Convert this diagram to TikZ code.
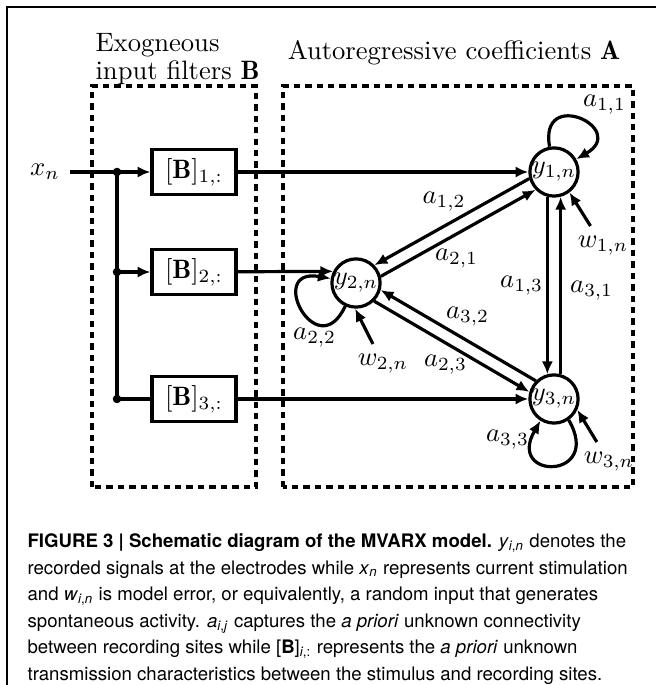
\documentclass[tikz,border=0pt]{standalone}
\usepackage{fontspec}
\newfontfamily\capfont{TeX Gyre Heros}
\usetikzlibrary{arrows.meta}

\begin{document}
\begin{tikzpicture}[x=0.376pt, y=0.376pt, line width=1.2pt, >={Latex[length=4.8pt,width=4.2pt]},
		sig/.style={circle, draw, inner sep=0pt, minimum size=18pt},
		filt/.style={rectangle, draw, inner sep=0pt, minimum width=31.6pt, minimum height=17pt},
		grp/.style={line width=1.4pt, dash pattern=on 2.4pt off 1.9pt},
		coef/.style={inner sep=1pt},
		selfloop/.style={->, distance=25pt}]
	\useasboundingbox (0,0) rectangle (656,685);
	\draw[line width=0.5pt] (7,0) -- (7,678) -- (656,678);

	\node[anchor=north west, align=left, inner sep=0pt] (ttlB) at (94,653) {Exogneous\\[-1.5pt]input filters $\mathbf{B}$};
	\node[anchor=base] (ttlA) at (454,625) {Autoregressive coefficients $\mathbf{A}$};
	\draw[grp] (92,198) rectangle (256,599);
	\draw[grp] (283,198) rectangle (633,599);

	\foreach \i/\y in {1/513,2/413,3/286} {
		\node[filt] (b\i) at (194,\y) {$[\mathbf{B}]_{\i,:}$};
		\coordinate (j\i) at (117,\y);
		\fill (j\i) circle[radius=1.6pt];
	}

	\node[sig] (y1) at (554,513) {$y_{1,n}$};
	\node[sig] (y2) at (356,402) {$y_{2,n}$};
	\node[sig] (y3) at (554,286) {$y_{3,n}$};
	\node (xn) at (45,513) {$x_n$};
	\node (w1) at (603,439) {$w_{1,n}$};
	\node (w2) at (383,321) {$w_{2,n}$};
	\node (w3) at (609,223) {$w_{3,n}$};

	\draw (xn) -- (j1) -- (j3);
	\draw[->] (j1) -- (b1);
	\draw[->] (j2) -- (b2);
	\draw (j3) -- (b3);
	\draw[->] (b1) -- (y1);
	\draw[->] (b2) -- (y2.153);
	\draw[->] (b3) -- (y3);

	\draw[->] (y1.195) -- node[coef, above=4pt, pos=.55] (l12) {$a_{1,2}$} (y2.44);
	\draw[->] (y2.15) -- node[coef, below=4pt, pos=.49] (l21) {$a_{2,1}$} (y1.224);
	\draw[->] (y1.255) -- node[coef, left, pos=.5] (l13) {$a_{1,3}$} (y3.105);
	\draw[->] (y3.75) -- node[coef, right=2pt, pos=.47] (l31) {$a_{3,1}$} (y1.285);
	\draw[->] (y3.135) -- node[coef, above=4pt, pos=.44] (l32) {$a_{3,2}$} (y2.344);
	\draw[->] (y2.315) -- node[coef, below=3pt, pos=.46] (l23) {$a_{2,3}$} (y3.164);

	\draw[selfloop, distance=23pt] (y1.100) to[out=100, in=30] node[coef, above right] (l11) {$a_{1,1}$} (y1.30);
	\draw[selfloop] (y2.245) to[out=245, in=170] node[coef, below, pos=.33] (l22) {$a_{2,2}$} (y2.170);
	\draw[selfloop, distance=26pt] (y3.305) to[out=300, in=240] node[coef, left=0pt, pos=.88] (l33) {$a_{3,3}$} (y3.238);

	\draw[->] (w1) -- (y1.307);
	\draw[->] (w2) -- (y2.268);
	\draw[->] (w3) -- (y3.-25);

	\node[anchor=north west, align=left, inner sep=0pt, font=\capfont\fontsize{7pt}{10pt}\selectfont] (cap) at (26,153) {%
		{\bfseries FIGURE 3 | Schematic diagram of the MVARX model.} \textit{y}\textsubscript{\textit{i},\textit{n}} denotes the\\
		recorded signals at the electrodes while \textit{x}\textsubscript{\textit{n}} represents current stimulation\\
		and \textit{w}\textsubscript{\textit{i},\textit{n}} is model error, or equivalently, a random input that generates\\
		spontaneous activity. \textit{a}\textsubscript{\textit{i},\textit{j}} captures the \textit{a priori} unknown connectivity\\
		between recording sites while [\textbf{B}]\textsubscript{\textit{i},:} represents the \textit{a priori} unknown\\
		transmission characteristics between the stimulus and recording sites.};
\end{tikzpicture}
\end{document}
